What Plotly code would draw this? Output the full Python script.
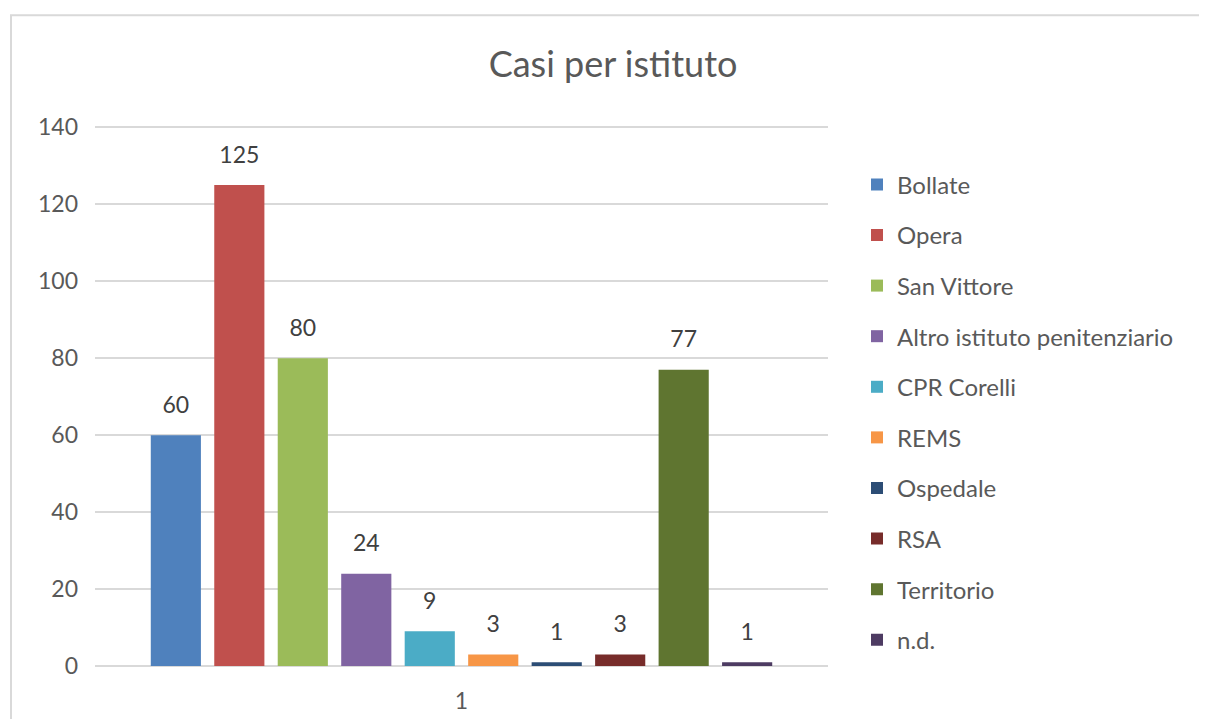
import plotly.graph_objects as go

category = ["1"]
series_names = ["Bollate", "Opera", "San Vittore", "Altro istituto penitenziario",
                "CPR Corelli", "REMS", "Ospedale", "RSA", "Territorio", "n.d."]
series_values = [60, 125, 80, 24, 9, 3, 1, 3, 77, 1]
series_colors = ["#4F81BD", "#C0504D", "#9BBB59", "#8064A2", "#4BACC6",
                 "#F79646", "#2C4D75", "#772C2A", "#5F7530", "#4D3B62"]
y_ticks = [0, 20, 40, 60, 80, 100, 120, 140]

FONT = "Lato, Open Sans, sans-serif"
TXT = "#595959"

# page has an 8px body margin, so the figure is sized/positioned accordingly
OFF = 8
W, H = 1207 - 2 * OFF, 727 - 2 * OFF
YMAX = 140
YTOP = 140.6  # a touch above the last tick so its gridline is drawn
px_per_unit = (666 - 127) / YMAX
ml = 95 - OFF
mr = W - (828 - OFF)
mb = H - (666 - OFF)
mt = (127 - OFF) - (YTOP - YMAX) * px_per_unit
pw, ph = W - ml - mr, H - mt - mb

def px_x(p):
    return (p - ml) / pw

def px_y(p):
    return (H - mb - p) / ph

label_lift = 14.5 / px_per_unit  # raise value labels a few pixels above bar tops

fig = go.Figure()
for name, val, col in zip(series_names, series_values, series_colors):
    fig.add_trace(go.Bar(
        x=category, y=[val], name=name,
        marker=dict(color=col, line=dict(width=0)),
        legendgroup=name,
    ))
for name, val in zip(series_names, series_values):
    fig.add_trace(go.Bar(
        x=category, y=[val], name=name, yaxis="y2",
        marker=dict(color="rgba(0,0,0,0)", line=dict(width=0)),
        text=[str(val)], textposition="outside",
        textfont=dict(size=23, color="#404040", family=FONT),
        cliponaxis=False, showlegend=False, hoverinfo="skip",
        legendgroup=name,
    ))

fig.update_layout(
    width=W, height=H,
    margin=dict(l=ml, r=mr, t=mt, b=mb, pad=0, autoexpand=False),
    paper_bgcolor="white", plot_bgcolor="white",
    barmode="group", bargap=0.134, bargroupgap=0.21,
    title=dict(text="Casi per istituto", x=(613 - OFF) / W, xanchor="center",
               y=1 - (64 - OFF) / H, yanchor="middle",
               font=dict(size=36, color=TXT, family=FONT)),
    font=dict(family=FONT, color=TXT),
    legend=dict(x=px_x(897 - OFF - 40), xanchor="left", y=px_y(185 - OFF - 23), yanchor="top",
                font=dict(size=24, color=TXT, family=FONT),
                traceorder="grouped", tracegroupgap=16.4,
                itemwidth=30, bgcolor="rgba(0,0,0,0)"),
    showlegend=True,
    xaxis=dict(showgrid=False, showline=False, ticks="", automargin=False,
               tickfont=dict(size=23, color=TXT, family=FONT), ticklabelstandoff=19),
    yaxis=dict(range=[0, YTOP], tickvals=y_ticks, showgrid=True, automargin=False,
               gridcolor="#D9D9D9", gridwidth=1.5, zeroline=True,
               zerolinecolor="#D9D9D9", zerolinewidth=1.5, showline=False,
               ticks="", tickfont=dict(size=23, color=TXT, family=FONT),
               ticklabelstandoff=16),
    yaxis2=dict(range=[-label_lift, YTOP - label_lift], overlaying="y",
                visible=False, showgrid=False, zeroline=False),
    shapes=[dict(type="rect", xref="paper", yref="paper",
                 x0=px_x(11 - OFF), x1=px_x(1215), y0=px_y(735), y1=px_y(15 - OFF),
                 line=dict(color="#D9D9D9", width=2), fillcolor="rgba(0,0,0,0)",
                 layer="below")],
)

fig.write_html("out.html")
